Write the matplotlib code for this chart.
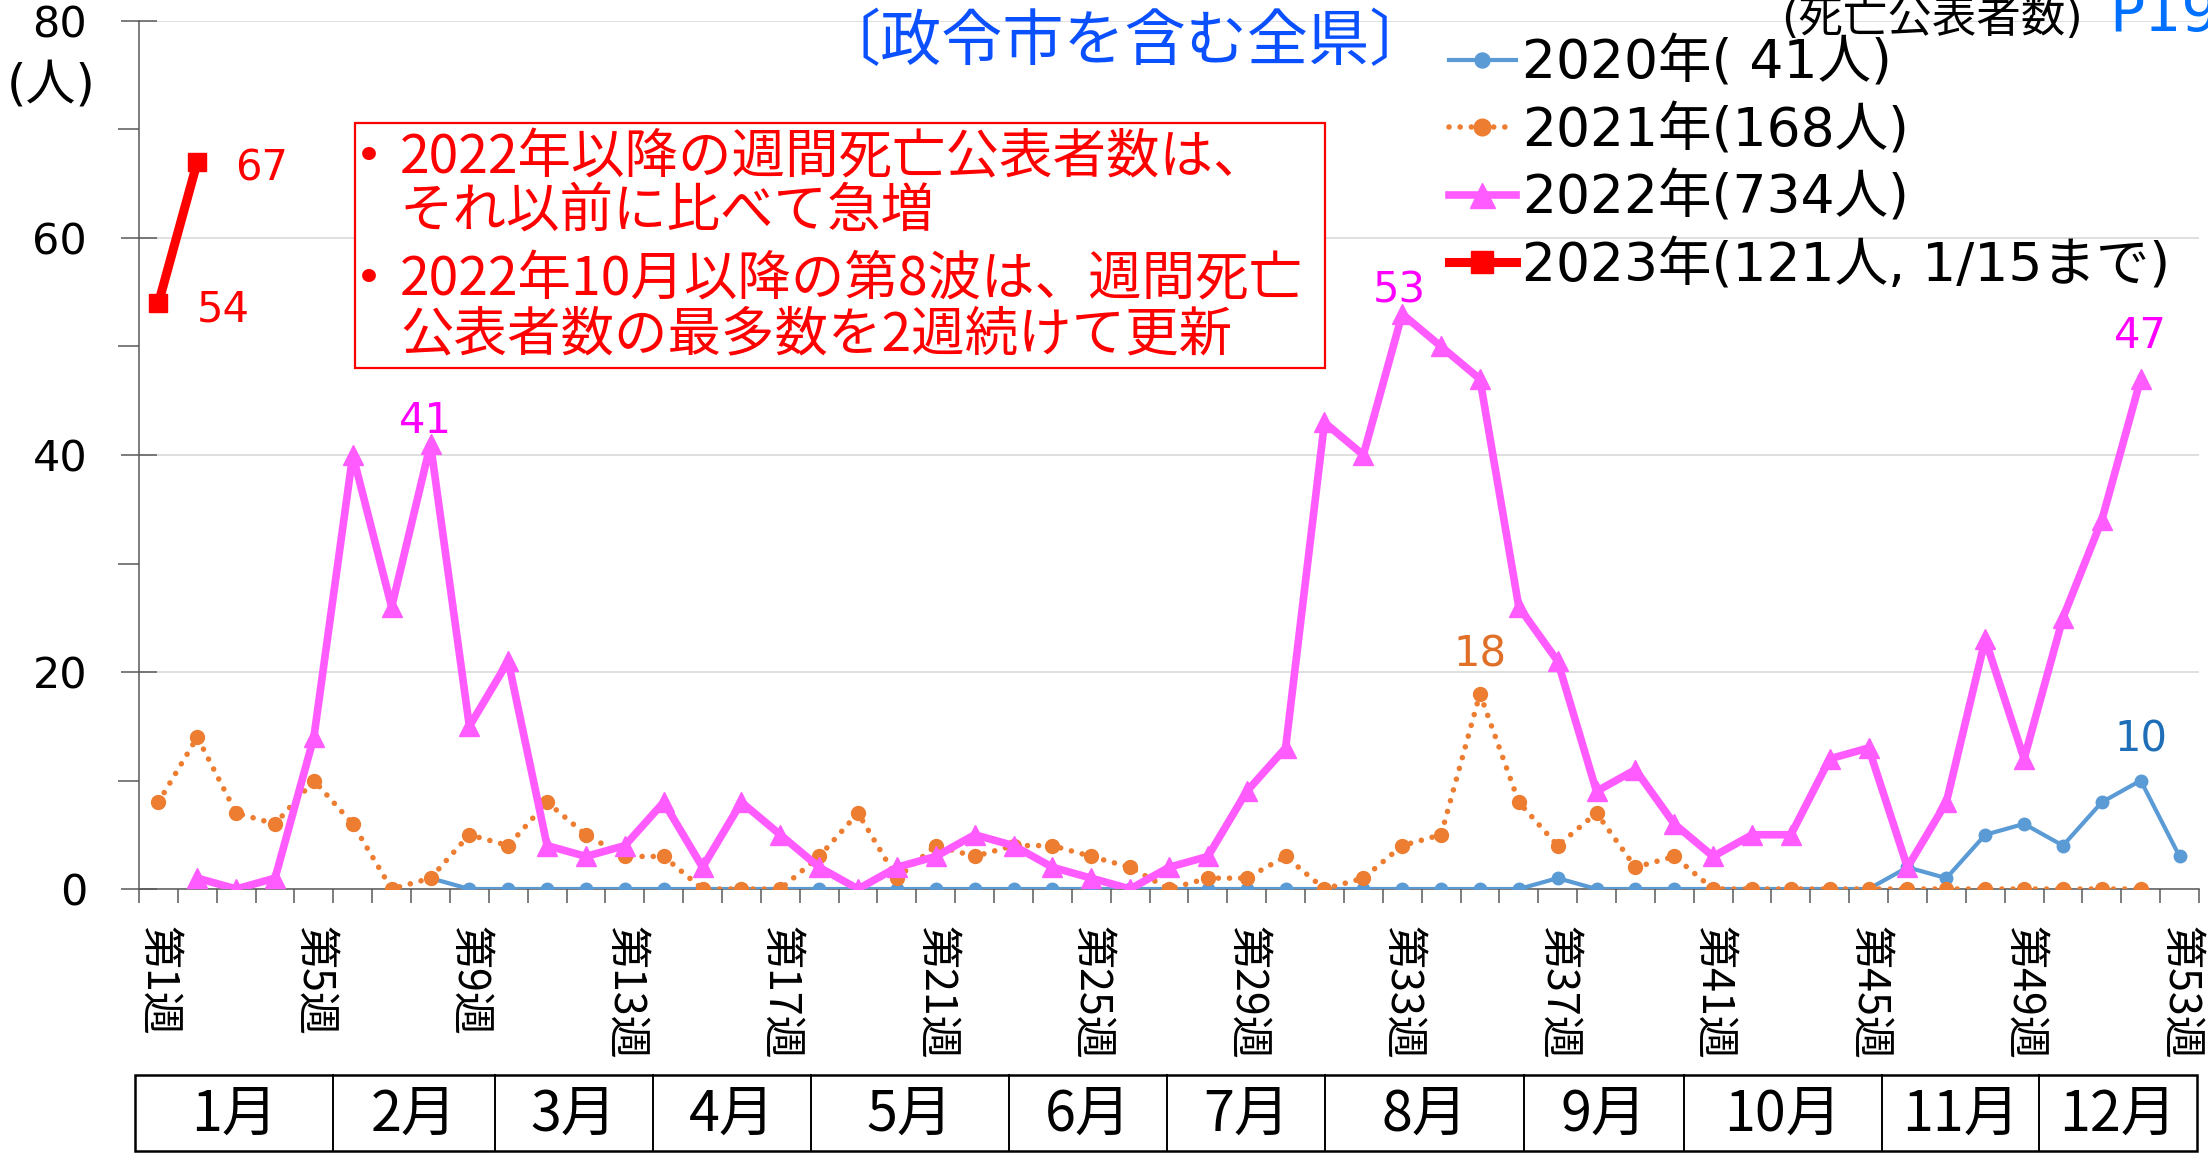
import numpy as np
import matplotlib
matplotlib.use('Agg')
import matplotlib.pyplot as plt
from matplotlib.patches import Rectangle
from matplotlib.lines import Line2D
from matplotlib.transforms import blended_transform_factory
from matplotlib.font_manager import FontProperties

# ---------------- data ----------------
weeks = list(range(1, 54))
tick_weeks = [1, 5, 9, 13, 17, 21, 25, 29, 33, 37, 41, 45, 49, 53]
week_labels = ['第1週', '第5週', '第9週', '第13週', '第17週', '第21週', '第25週',
               '第29週', '第33週', '第37週', '第41週', '第45週', '第49週', '第53週']
months = ['1月', '2月', '3月', '4月', '5月', '6月', '7月', '8月', '9月', '10月', '11月', '12月']
month_edges = [0.40, 5.50, 9.66, 13.72, 17.79, 22.88, 26.95, 31.01, 36.13, 40.25, 45.34, 49.38, 53.45]

deaths_2020 = [None, None, None, None, None, None, None, 1, 0, 0,
               0, 0, 0, 0, 0, 0, 0, 0, 0, 0,
               0, 0, 0, 0, 0, 0, 0, 0, 0, 0,
               0, 0, 0, 0, 0, 0, 1, 0, 0, 0,
               0, 0, 0, 0, 0, 2, 1, 5, 6, 4,
               8, 10, 3]
deaths_2021 = [8, 14, 7, 6, 10, 6, 0, 1, 5, 4,
               8, 5, 3, 3, 0, 0, 0, 3, 7, 1,
               4, 3, 4, 4, 3, 2, 0, 1, 1, 3,
               0, 1, 4, 5, 18, 8, 4, 7, 2, 3,
               0, 0, 0, 0, 0, 0, 0, 0, 0, 0,
               0, 0, None]
deaths_2022 = [None, 1, 0, 1, 14, 40, 26, 41, 15, 21,
               4, 3, 4, 8, 2, 8, 5, 2, 0, 2,
               3, 5, 4, 2, 1, 0, 2, 3, 9, 13,
               43, 40, 53, 50, 47, 26, 21, 9, 11, 6,
               3, 5, 5, 12, 13, 2, 8, 23, 12, 25,
               34, 47, None]
weeks_2023 = [1, 2]
deaths_2023 = [54, 67]

series_labels = ['2020年( 41人)', '2021年(168人)', '2022年(734人)', '2023年(121人, 1/15まで)']

# ---------------- figure ----------------
W, H = 2208, 1154
fig = plt.figure(figsize=(W / 100, H / 100), dpi=100)
ax = fig.add_axes([139 / W, 1 - 889 / H, (2199 - 139) / W, (889 - 21) / H])

CJK = ['Noto Sans CJK JP', 'DejaVu Sans']
MIX = ['DejaVu Sans', 'Noto Sans CJK JP']
AX_COLOR = '#595959'

c2020, c2021, c2022, c2023 = '#5B9BD5', '#ED7D31', '#FF5BFF', '#FF0000'

d20 = np.array(deaths_2020, dtype=float)
d21 = np.array(deaths_2021, dtype=float)
d22 = np.array(deaths_2022, dtype=float)

ax.plot(weeks, d20, color=c2020, lw=3, marker='o', ms=9, mec=c2020,
        label=series_labels[0], zorder=3)
ax.plot(weeks, d21, color=c2021, lw=4, ls=(0, (0.01, 2.0)), dash_capstyle='round',
        marker='o', ms=10, mec=c2021, label=series_labels[1], zorder=4)
ax.plot(weeks, d22, color=c2022, lw=5.5, marker='^', ms=15, mec=c2022,
        label=series_labels[2], zorder=5)
ax.plot(weeks_2023, deaths_2023, color=c2023, lw=6.5, marker='s', ms=13, mec=c2023,
        label=series_labels[3], zorder=6)

# axes styling
ax.set_xlim(0.5, 53.5)
ax.set_ylim(0, 80)
for s in ['top', 'right']:
    ax.spines[s].set_visible(False)
for s in ['left', 'bottom']:
    ax.spines[s].set_color(AX_COLOR)
    ax.spines[s].set_linewidth(1.1)

ax.set_yticks([0, 20, 40, 60, 80])
ax.set_yticklabels(['0', '20', '40', '60', '80'], fontsize=31, family='DejaVu Sans')
ax.set_yticks([10, 30, 50, 70], minor=True)
ax.tick_params(axis='y', which='major', direction='inout', length=26.6, width=1.1,
               color=AX_COLOR, pad=24)
ax.tick_params(axis='y', which='minor', direction='out', length=15, width=1.1, color=AX_COLOR)

ax.set_xticks(tick_weeks)
ax.set_xticklabels(week_labels, rotation=-90, fontsize=31, family=CJK, ha='center', va='top')
ax.set_xticks(np.arange(0.5, 54, 1), minor=True)
ax.tick_params(axis='x', which='major', length=0, pad=27)
ax.tick_params(axis='x', which='minor', direction='out', length=10, width=1.1, color=AX_COLOR)

ax.yaxis.grid(True, which='major', color='#D9D9D9', lw=1.2)
ax.set_axisbelow(True)

# data labels
def label(week, values, color, dx, dy):
    v = values[week - 1]
    ax.annotate(f'{int(v)}', xy=(week, v), xytext=(dx, dy), textcoords='offset points',
                ha='center', va='baseline', fontsize=30, color=color,
                family='DejaVu Sans', zorder=10)

label(8, d22, '#FF00FF', -4, 8)
label(33, d22, '#FF00FF', -2, 8)
label(52, d22, '#FF00FF', 0, 22)
label(35, d21, '#E07028', 0, 19.5)
label(52, d20, '#1F6EB8', 0, 21)
label(1, deaths_2023, c2023, 47, -13.5)
label(2, deaths_2023, c2023, 46, -13)

# legend
leg = ax.legend(loc='upper left', bbox_to_anchor=(1449 / W, 1 - 37.5 / H),
                bbox_transform=fig.transFigure, frameon=False,
                prop=FontProperties(family=MIX, size=38.5),
                handlelength=1.25, handletextpad=0.12, labelspacing=0.29,
                borderpad=0, borderaxespad=0, markerscale=1.2)

# titles / notes
fig.text(51 / W, 1 - 85 / H, '(人)', ha='center', va='center', fontsize=36, family=MIX)
fig.text(1125 / W, 1 - 43 / H, '〔政令市を含む全県〕', ha='center', va='center',
         fontsize=44, color='#0B50FF', family=CJK)
fig.text(1781 / W, 1 - 32 / H, '(死亡公表者数)', ha='left', va='baseline',
         fontsize=32, family=MIX)
fig.text(2109 / W, 1 - 31 / H, 'P19', ha='left', va='baseline',
         fontsize=42, color='#0070FF', family='DejaVu Sans')

# annotation box
box = Rectangle((355 / W, 1 - 368 / H), (1325 - 355) / W, (368 - 123) / H,
                transform=fig.transFigure, facecolor='white', edgecolor='#FF0000',
                lw=1.6, zorder=1)
fig.add_artist(box)
box_lines = ['2022年以降の週間死亡公表者数は、',
             'それ以前に比べて急増',
             '2022年10月以降の第8波は、週間死亡',
             '公表者数の最多数を2週続けて更新']
line_y = [158, 211, 280, 335]
for txt, yy in zip(box_lines, line_y):
    fig.text(400 / W, 1 - yy / H, txt, ha='left', va='center', fontsize=38.5,
             color='#FF0000', family=CJK, zorder=2)
for yy in [line_y[0], line_y[2]]:
    fig.text(369 / W, 1 - yy / H, '•', ha='center', va='center', fontsize=34,
             color='#FF0000', family=MIX, zorder=2)

# month table
trans = blended_transform_factory(ax.transData, fig.transFigure)
top_f, bot_f = 1 - 1075 / H, 1 - 1151 / H
fig.add_artist(Rectangle((month_edges[0], bot_f), month_edges[-1] - month_edges[0],
                         top_f - bot_f, transform=trans, fill=False, lw=1.8,
                         edgecolor='black'))
for e in month_edges[1:-1]:
    fig.add_artist(Line2D([e, e], [bot_f, top_f], transform=trans, color='black', lw=1.4))
for m, a, b in zip(months, month_edges[:-1], month_edges[1:]):
    fig.text((a + b) / 2, 1 - 1115 / H, m, transform=trans, ha='center', va='center',
             fontsize=40, family=CJK)

fig.savefig('out.png', dpi=100)
